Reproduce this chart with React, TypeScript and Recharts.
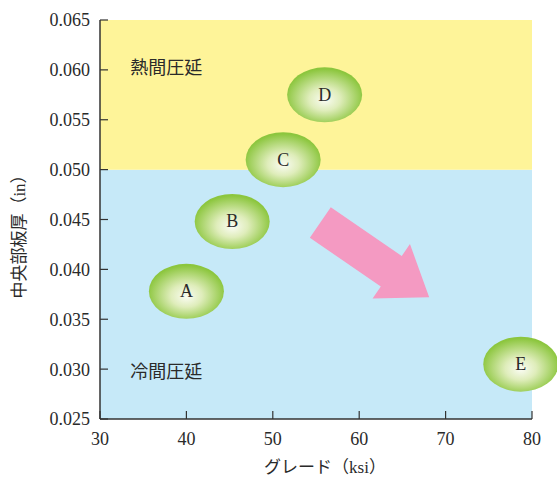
import { ReferenceArea, ReferenceDot, ReferenceLine, Scatter, ScatterChart, XAxis, YAxis } from "recharts";

const grades = [40, 45.3, 51.2, 56, 78.7];
const thickness = [0.0378, 0.0448, 0.051, 0.0575, 0.0305];
const labels = ["A", "B", "C", "D", "E"];

const xTicks = [30, 40, 50, 60, 70, 80];
const yTicks = [0.025, 0.03, 0.035, 0.04, 0.045, 0.05, 0.055, 0.06, 0.065];

const bandFrom = [0.025, 0.05];
const bandTo = [0.05, 0.065];
const bandColors = ["#c6e9f8", "#fef499"];
const bandNames = ["冷間圧延", "熱間圧延"];
const bandLabelX = [33.5, 33.5];
const bandLabelY = [0.0297, 0.0602];

// trend arrow, tail -> tip, in data units
const arrowFrom = { x: 55.5, y: 0.0447 };
const arrowTo = { x: 68.1, y: 0.0372 };

const xTitle = "グレード（ksi）";
const yTitle = "中央部板厚（in）";

const points = grades.map((g, i) => ({ x: g, y: thickness[i], name: labels[i] }));

const SERIF = "'Liberation Serif', 'Noto Sans CJK JP', serif";
const INK = "#2a2a2a";

const Blob = (props: any) => {
  const { cx, cy, payload } = props;
  const id = `blob-${payload.name}`;
  return (
    <g>
      <defs>
        <radialGradient id={id} cx="50%" cy="55%" r="52%" fx="50%" fy="60%">
          <stop offset="0%" stopColor="#fafcf3" />
          <stop offset="40%" stopColor="#dfedbb" />
          <stop offset="100%" stopColor="#8cc63e" />
        </radialGradient>
      </defs>
      <ellipse cx={cx} cy={cy} rx={37.5} ry={27.5} fill={`url(#${id})`} />
      <text
        x={cx}
        y={cy + 6}
        textAnchor="middle"
        fontFamily={SERIF}
        fontSize={18}
        fill={INK}
      >
        {payload.name}
      </text>
    </g>
  );
};

const Arrow = (props: any) => {
  const { x1, y1, x2, y2 } = props;
  const dx = x2 - x1;
  const dy = y2 - y1;
  const len = Math.sqrt(dx * dx + dy * dy);
  const ux = dx / len;
  const uy = dy / len;
  const nx = -uy;
  const ny = ux;
  const shaft = 18.5;
  const head = 33;
  const headLen = 46;
  const bx = x2 - ux * headLen;
  const by = y2 - uy * headLen;
  const pts = [
    [x1 + nx * shaft, y1 + ny * shaft],
    [bx + nx * shaft, by + ny * shaft],
    [bx + nx * head, by + ny * head],
    [x2, y2],
    [bx - nx * head, by - ny * head],
    [bx - nx * shaft, by - ny * shaft],
    [x1 - nx * shaft, y1 - ny * shaft],
  ]
    .map((p) => p.join(","))
    .join(" ");
  return <polygon points={pts} fill="#f49ac2" />;
};

const BandLabel = (text: string) => (props: any) => (
  <text
    x={props.cx}
    y={props.cy + 6}
    fontFamily={SERIF}
    fontSize={18}
    fill={INK}
  >
    {text}
  </text>
);

const XTitle = ({ viewBox }: any) => (
  <text
    x={viewBox.x + viewBox.width / 2 + 9}
    y={viewBox.y + viewBox.height - 5}
    textAnchor="middle"
    fontFamily={SERIF}
    fontSize={17}
    fill={INK}
  >
    {xTitle}
  </text>
);

const YTitle = ({ viewBox }: any) => {
  const x = viewBox.x + 25;
  const y = viewBox.y + viewBox.height / 2 + 13;
  return (
    <text
      x={x}
      y={y}
      transform={`rotate(-90, ${x}, ${y})`}
      textAnchor="middle"
      fontFamily={SERIF}
      fontSize={17}
      fill={INK}
    >
      {yTitle}
    </text>
  );
};

export default function App() {
  return (
    <div style={{ position: "absolute", left: 0, top: 0, background: "#fff" }}>
      <ScatterChart
        width={557}
        height={478}
        margin={{ top: 20, right: 25, bottom: 0, left: 0 }}
      >
        {bandFrom.map((f, i) => (
          <ReferenceArea
            key={bandNames[i]}
            y1={f}
            y2={bandTo[i]}
            x1={30}
            x2={80}
            fill={bandColors[i]}
            fillOpacity={1}
            stroke="none"
          />
        ))}
        <XAxis
          type="number"
          dataKey="x"
          domain={[30, 80]}
          ticks={xTicks}
          height={59}
          tickSize={-8}
          tickMargin={21}
          axisLine={{ stroke: "#333", strokeWidth: 1.5 }}
          tickLine={{ stroke: "#333", strokeWidth: 1.2 }}
          tick={{ fontFamily: SERIF, fontSize: 18, fill: INK }}
          label={{ content: XTitle }}
        />
        <YAxis
          type="number"
          dataKey="y"
          domain={[0.025, 0.065]}
          ticks={yTicks}
          width={100}
          tickSize={-8}
          tickMargin={18}
          tickFormatter={(v: number) => v.toFixed(3)}
          axisLine={{ stroke: "#333", strokeWidth: 1.5 }}
          tickLine={{ stroke: "#333", strokeWidth: 1.2 }}
          tick={{ fontFamily: SERIF, fontSize: 18, fill: INK }}
          label={{ content: YTitle }}
        />
        {bandNames.map((n, i) => (
          <ReferenceDot
            key={n}
            x={bandLabelX[i]}
            y={bandLabelY[i]}
            r={0}
            shape={BandLabel(n)}
          />
        ))}
        <ReferenceLine
          segment={[arrowFrom, arrowTo]}
          shape={(p: any) => <Arrow {...p} />}
        />
        <Scatter data={points} shape={Blob} isAnimationActive={false} />
      </ScatterChart>
    </div>
  );
}
